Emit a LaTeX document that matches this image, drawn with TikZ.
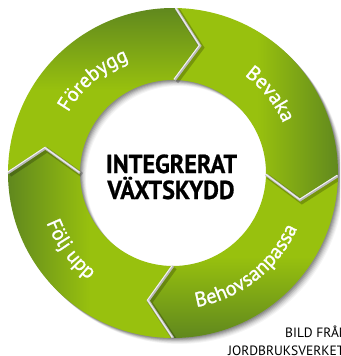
\documentclass[tikz,border=0pt]{standalone}
\usepackage{fontspec}
\newfontfamily\lblfont[FakeBold=1.2]{PT Sans}
\newfontfamily\credfont{PT Sans}
\newfontfamily\ctrfont[BoldFeatures={FakeBold=0.8}]{PT Sans}
\usetikzlibrary{decorations.text}
\definecolor{gdark}{RGB}{96,136,30}
\definecolor{glight}{RGB}{152,193,14}
\newcommand{\ringseg}[3]{%
  \shade[#3] (#1:165) arc[start angle=#1, end angle=#2, radius=165]
    -- ({#2-11}:130) -- (#2:93) arc[start angle=#2, end angle=#1, radius=93]
    -- ({#1-11}:130) -- cycle;}
\newcommand{\ringgap}[1]{%
  \draw[black, opacity=0.22, line width=4.5, shift={(1.8,-1.8)}] (#1:165) -- ({#1-11}:130) -- (#1:93);
  \draw[gray!55, line width=2.6] (#1:165) -- ({#1-11}:130) -- (#1:93);
  \draw[white!90!gray, line width=1, shift={(-0.7,0.7)}] (#1:165) -- ({#1-11}:130) -- (#1:93);}
\tikzset{
  lbl/.style={decorate, decoration={text along path, text align=center, text color=white}},
}
\begin{document}
\begin{tikzpicture}[x=1pt,y=1pt]
\useasboundingbox (-173,-183) rectangle (167,173);
\clip (-173,-183) rectangle (167,173);
\fill[white] (-173,-183) rectangle (167,173);
% soft shadow of the ring
\foreach \o/\op in {1/0.12, 2/0.11, 3/0.10, 4/0.08, 5/0.06, 6/0.05, 7/0.04}
  \fill[black, opacity=\op, even odd rule, shift={(\o*0.85,-\o*0.85)}]
    (0,0) circle[radius=165] (0,0) circle[radius=93];
% segments
\ringseg{180}{89}{top color=gdark, bottom color=glight, middle color=glight}
\ringseg{89}{-1}{left color=glight, right color=gdark, middle color=glight}
\ringseg{-1}{-90}{top color=glight, bottom color=gdark, middle color=glight}
\ringseg{270}{180}{left color=gdark, right color=glight, middle color=glight}
% gaps between segments
\begin{scope}
\clip (0,0) circle[radius=165];
\ringgap{89}
\ringgap{-1}
\ringgap{-90}
\ringgap{180}
\end{scope}
% labels along the ring
\path[lbl, decoration={text={|\lblfont\fontsize{20.5}{20.5}\selectfont|Förebygg}}]
  (170.6:121) arc[start angle=170.6, end angle=90.6, radius=121];
\path[lbl, decoration={text={|\lblfont\fontsize{20.5}{20.5}\selectfont|Bevaka}}]
  (79:121) arc[start angle=79, end angle=-1, radius=121];
\path[lbl, decoration={text={|\lblfont\fontsize{20.5}{20.5}\selectfont|Behovsanpassa}}]
  (-100:136) arc[start angle=-100, end angle=-4, radius=136];
\path[lbl, decoration={text={|\lblfont\fontsize{20.5}{20.5}\selectfont|Följ upp}}]
  (176.6:136) arc[start angle=176.6, end angle=256.6, radius=136];
% centre title
\node[anchor=base, inner sep=0, font=\ctrfont\bfseries\fontsize{26}{26}\selectfont] (t1) at (-1.5,0) {\scalebox{0.93}[1]{INTEGRERAT}};
\node[anchor=base, inner sep=0, font=\ctrfont\bfseries\fontsize{26}{26}\selectfont] (t2) at (-2,-26) {\scalebox{0.93}[1]{VÄXTSKYDD}};
% credit
\node[anchor=base west, inner sep=0, font=\credfont\fontsize{13.5}{13.5}\selectfont] (c1) at (112,-164) {BILD FRÅN};
\node[anchor=base west, inner sep=0, font=\credfont\fontsize{13.5}{13.5}\selectfont] (c2) at (55,-182.5) {JORDBRUKSVERKET};
\end{tikzpicture}
\end{document}
